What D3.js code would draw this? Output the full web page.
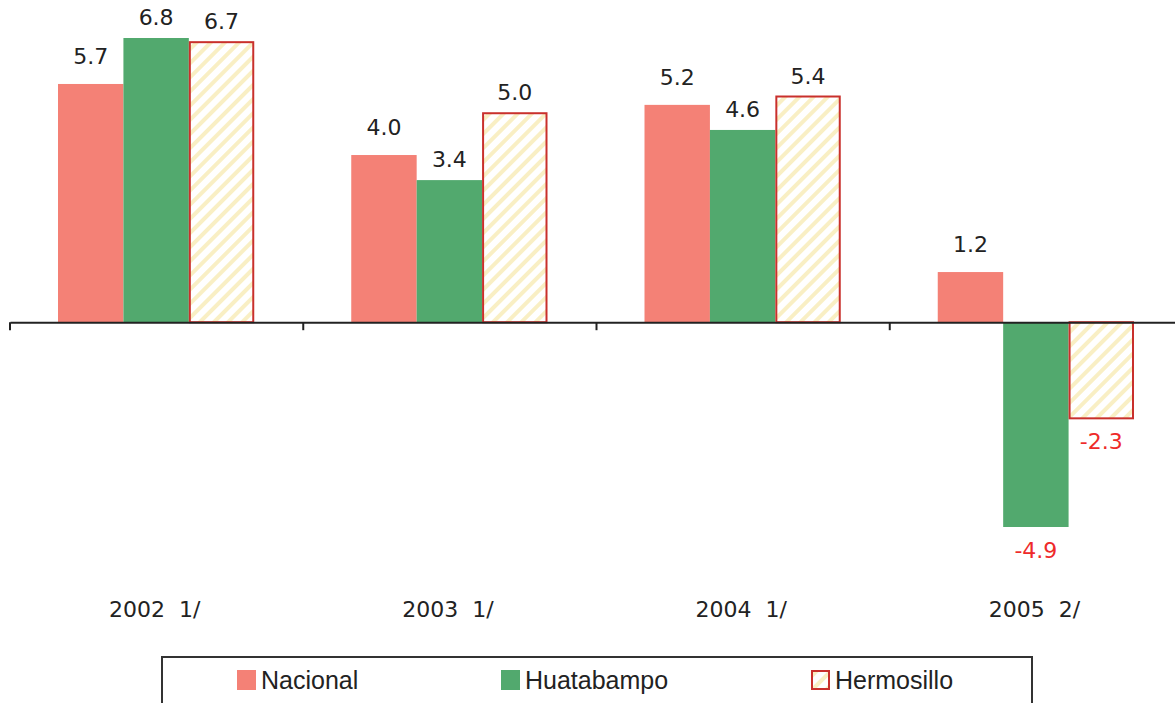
<!DOCTYPE html>
<html>
<head>
<meta charset="utf-8">
<script src="https://cdn.jsdelivr.net/npm/d3@7"></script>
<style>
  body { margin: 0; background: #fff; }
</style>
</head>
<body>
<div id="chart"></div>
<script>
// data
var years = ["2002  1/", "2003  1/", "2004  1/", "2005  2/"];
var seriesNames = ["Nacional", "Huatabampo", "Hermosillo"];
var nacional = [5.7, 4.0, 5.2, 1.2];
var huatabampo = [6.8, 3.4, 4.6, -4.9];
var hermosillo = [6.7, 5.0, 5.4, -2.3];

var W = 1175, H = 703;

var svg = d3.select("#chart")
  .append("svg")
    .attr("width", W)
    .attr("height", H);

// hatch pattern for Hermosillo
var defs = svg.append("defs");
var pat = defs.append("pattern")
    .attr("id", "hatch")
    .attr("patternUnits", "userSpaceOnUse")
    .attr("width", 10)
    .attr("height", 10)
    .attr("patternTransform", "rotate(45)");
pat.append("rect").attr("width", 10).attr("height", 10).attr("fill", "#fff");
pat.append("rect").attr("width", 4).attr("height", 10).attr("fill", "#f9efc4");

var colors = ["#f48176", "#52a96e", "url(#hatch)"];
var strokes = ["none", "none", "#c9302c"];
// label gap above positive bars, per series (Nacional sits a bit higher)
var labelGap = [20, 13, 13];

var rows = years.map(function(y, i) {
  return {year: y, values: [nacional[i], huatabampo[i], hermosillo[i]]};
});

// X scale
var x = d3.scaleBand()
  .domain(years)
  .range([10, 1183])
  .paddingInner(0)
  .paddingOuter(0);

var xInner = d3.scaleBand()
  .domain(d3.range(3))
  .range([48, x.bandwidth() - 49]);

// Y scale
var y = d3.scaleLinear()
  .domain([-4.9, 6.8])
  .range([527, 38]);

var groups = svg.selectAll(".grp")
  .data(rows)
  .enter()
  .append("g")
    .attr("transform", function(d) { return "translate(" + x(d.year) + ",0)"; });

groups.selectAll("rect")
  .data(function(d) { return d.values; })
  .enter()
  .append("rect")
    .attr("x", function(d, i) { return xInner(i) + (i == 2 ? 1 : 0); })
    .attr("width", function(d, i) { return xInner.bandwidth() - (i == 2 ? 2 : 0); })
    .attr("y", function(d) { return y(Math.max(0, d)); })
    .attr("height", function(d) { return Math.abs(y(d) - y(0)); })
    .attr("fill", function(d, i) { return colors[i]; })
    .attr("stroke", function(d, i) { return strokes[i]; })
    .attr("stroke-width", 2);

// value labels
groups.selectAll("text.val")
  .data(function(d) { return d.values; })
  .enter()
  .append("text")
    .attr("class", "val")
    .attr("x", function(d, i) { return xInner(i) + xInner.bandwidth() / 2; })
    .attr("y", function(d, i) { return d >= 0 ? y(d) - labelGap[i] : y(d) + 31; })
    .attr("text-anchor", "middle")
    .attr("font-family", "DejaVu Sans")
    .attr("font-size", 22)
    .attr("fill", function(d) { return d < 0 ? "#ee2a2a" : "#222"; })
    .text(function(d) { return d.toFixed(1); });

// x axis line at zero
var axis = svg.append("g")
  .attr("transform", "translate(0," + y(0) + ")")
  .call(d3.axisBottom(x).tickValues([]).tickSizeOuter(0));
axis.select(".domain").attr("stroke", "#222").attr("stroke-width", 2);

// ticks at category boundaries
svg.selectAll("line.tk")
  .data(years)
  .enter()
  .append("line")
    .attr("x1", function(d) { return x(d); })
    .attr("x2", function(d) { return x(d); })
    .attr("y1", y(0))
    .attr("y2", y(0) + 8)
    .attr("stroke", "#222")
    .attr("stroke-width", 2);

// category labels
svg.selectAll("text.cat")
  .data(years)
  .enter()
  .append("text")
    .attr("x", function(d) { return x(d) + x.bandwidth() / 2 - 2; })
    .attr("y", 617)
    .attr("text-anchor", "middle")
    .attr("font-family", "DejaVu Sans")
    .attr("font-size", 22)
    .attr("fill", "#222")
    .attr("xml:space", "preserve")
    .style("white-space", "pre")
    .text(function(d) { return d; });

// legend
var legend = svg.append("g");
legend.append("rect")
  .attr("x", 162).attr("y", 657)
  .attr("width", 870).attr("height", 60)
  .attr("fill", "#fff")
  .attr("stroke", "#333")
  .attr("stroke-width", 2);

var legX = [237, 501, 811];
seriesNames.forEach(function(name, i) {
  var inset = i == 2 ? 1 : 0;
  legend.append("rect")
    .attr("x", legX[i] + inset).attr("y", 670 + inset)
    .attr("width", 19 - 2 * inset).attr("height", 20 - 2 * inset)
    .attr("fill", colors[i])
    .attr("stroke", strokes[i])
    .attr("stroke-width", 2);
  legend.append("text")
    .attr("x", legX[i] + 24)
    .attr("y", 689)
    .attr("font-family", "Liberation Sans, Arial")
    .attr("font-size", 25)
    .attr("fill", "#222")
    .text(name);
});
</script>
</body>
</html>
